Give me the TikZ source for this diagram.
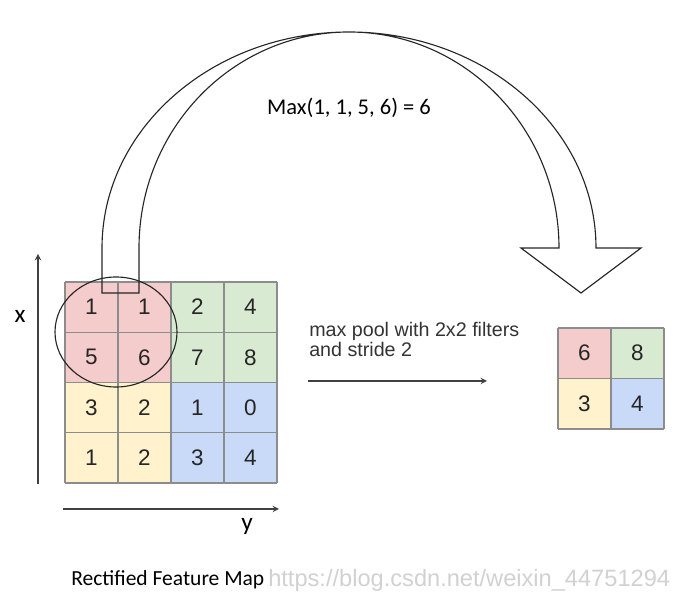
\documentclass[tikz,border=0pt]{standalone}
\usepackage{fontspec}
\setmainfont{Liberation Sans}
\newfontfamily\calib{Carlito}
\usepackage{tikz}
\usetikzlibrary{arrows.meta}
\usepackage{xcolor}

\definecolor{cellred}{HTML}{F4CCCC}
\definecolor{cellgreen}{HTML}{D9EAD3}
\definecolor{cellyellow}{HTML}{FFF2CC}
\definecolor{cellblue}{HTML}{C9DAF8}

\tikzset{
  cellline/.style={draw=black!45,line width=0.8pt},
  cellnum/.style={inner sep=0pt,font=\fontsize{16}{18}\selectfont,text=black!85},
  outline/.style={draw=black!85,line width=0.8pt},
}

\begin{document}
\begin{tikzpicture}[x=0.25mm,y=-0.25mm]
        \def\gx{65}
        \def\gy{282}
        \def\cw{53}
        \def\ch{50.25}
        \def\ox{558}
        \def\oy{328}

        \useasboundingbox (0,0) rectangle (689,603);

        %------------------
        % 入力の特徴マップ
        %------------------

        % 塗りつぶし（2x2 ごと）
        \fill[cellred]    (\gx,\gy) rectangle ++(2*\cw,2*\ch);
        \fill[cellgreen]  (\gx+2*\cw,\gy) rectangle ++(2*\cw,2*\ch);
        \fill[cellyellow] (\gx,\gy+2*\ch) rectangle ++(2*\cw,2*\ch);
        \fill[cellblue]   (\gx+2*\cw,\gy+2*\ch) rectangle ++(2*\cw,2*\ch);

        % 格子
        \foreach \i in {0,...,4} {
          \draw[cellline] ({\gx+\cw*\i},\gy) -- ({\gx+\cw*\i},{\gy+4*\ch});
          \draw[cellline] (\gx,{\gy+\ch*\i}) -- ({\gx+4*\cw},{\gy+\ch*\i});
        }

        % 数値
        \foreach \vals [count=\r] in {{1,1,2,4},{5,6,7,8},{3,2,1,0},{1,2,3,4}}
          \foreach \v [count=\c] in \vals
            \node[cellnum] (in-\r-\c) at ({\gx+\cw*(\c-0.5)},{\gy+\ch*(\r-0.5)}) {\v};

        % 円
        \draw[outline] (116,332) ellipse [x radius=61, y radius=55];

        %------------------
        % 出力（プーリング後）
        %------------------

        \fill[cellred]    (\ox,\oy) rectangle ++(\cw,50.5);
        \fill[cellgreen]  (\ox+\cw,\oy) rectangle ++(\cw,50.5);
        \fill[cellyellow] (\ox,\oy+50.5) rectangle ++(\cw,50.5);
        \fill[cellblue]   (\ox+\cw,\oy+50.5) rectangle ++(\cw,50.5);
        \foreach \i in {0,1,2} {
          \draw[cellline] ({\ox+\cw*\i},\oy) -- ({\ox+\cw*\i},{\oy+101});
          \draw[cellline] (\ox,{\oy+50.5*\i}) -- ({\ox+2*\cw},{\oy+50.5*\i});
        }
        \foreach \v/\r/\c in {6/1/1,8/1/2,3/2/1,4/2/2}
          \node[cellnum] (out-\r-\c) at ({\ox+\cw*(\c-0.5)},{\oy+50.5*(\r-0.5)}) {\v};

        %------------------
        % 曲がった矢印
        %------------------

        \draw[outline]
          (102,293) -- (102,248) arc[start angle=180, end angle=360, x radius=247, y radius=216]
          -- (641,248) -- (581,293) -- (521,248) -- (559,248)
          arc[start angle=0, end angle=-180, x radius=210, y radius=216]
          -- (139,293) -- cycle;

        \node[font=\calib\fontsize{16}{18}\selectfont] (maxlabel) at (349,108) {Max(1, 1, 5, 6) = 6};

        %------------------
        % 軸
        %------------------

        \coordinate (xfoot) at (38,484);
        \coordinate (xtip) at (38,254);
        \coordinate (yfoot) at (63,509);
        \coordinate (ytip) at (279,509);
        \draw[->,>=stealth,line width=1pt,black!75] (xfoot) -- (xtip);
        \draw[->,>=stealth,line width=1pt,black!75] (yfoot) -- (ytip);
        \node[font=\calib\fontsize{18}{20}\selectfont] (xlabel) at (20,316) {x};
        \node[font=\calib\fontsize{18}{20}\selectfont] (ylabel) at (247,526) {y};

        %------------------
        % 中央の矢印と説明
        %------------------

        \node[anchor=north west,align=left,inner sep=0pt,text=black!80,
              font=\fontsize{14}{14.5}\selectfont] (poolnote) at (309,322)
          {max pool with 2x2 filters\\and stride 2};
        \coordinate (poolstart) at (308,381);
        \coordinate (poolend) at (487,381);
        \draw[->,>=stealth,line width=1pt,black!75] (poolstart) -- (poolend);

        % ラベル
        \node[anchor=west,inner sep=0pt,font=\calib\fontsize{15.3}{17}\selectfont] (maptitle) at (71,580) {Rectified Feature Map};
        \node[anchor=west,inner sep=0pt,text=black!18,font=\fontsize{16.8}{20}\selectfont] (watermark) at (268,580) {https://blog.csdn.net/weixin\_44751294};
      \end{tikzpicture}
\end{document}
